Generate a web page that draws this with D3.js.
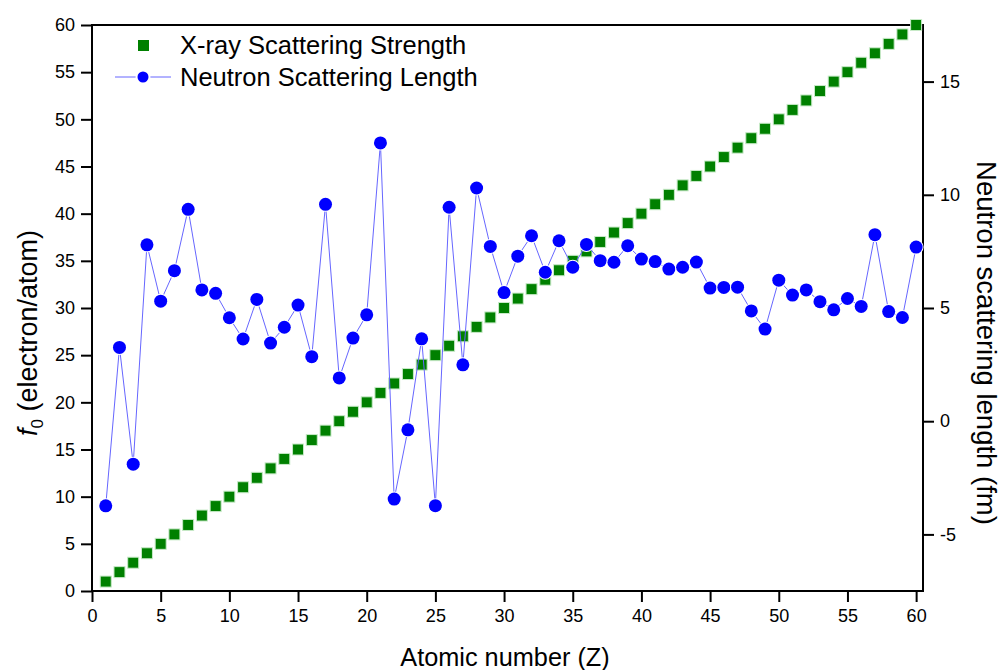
<!DOCTYPE html>
<html>
<head>
<meta charset="utf-8">
<title>X-ray vs neutron scattering</title>
<script src="https://d3js.org/d3.v7.min.js"></script>
<style>
  body { margin: 0; background: #fff; }
  text { font-family: "Liberation Sans", Arial, sans-serif; fill: #000; }
</style>
</head>
<body>
<div id="chart"></div>
<script>
// atomic numbers 1..60
var atomicNumbers = d3.range(1, 61);

// x-ray scattering strength f0 (electron/atom)
var xrayF0 = [
  1, 2, 3, 4, 5, 6, 7, 8, 9, 10,
  11, 12, 13, 14, 15, 16, 17, 18, 19, 20,
  21, 22, 23, 24, 25, 26, 27, 28, 29, 30,
  31, 32, 33, 34, 35, 36, 37, 38, 39, 40,
  41, 42, 43, 44, 45, 46, 47, 48, 49, 50,
  51, 52, 53, 54, 55, 56, 57, 58, 59, 60
];

// neutron coherent scattering length (fm)
var neutronB = [
  -3.74, 3.26, -1.90, 7.79, 5.30, 6.65, 9.36, 5.80, 5.65, 4.57,
  3.63, 5.38, 3.45, 4.15, 5.13, 2.85, 9.58, 1.91, 3.67, 4.70,
  12.29, -3.44, -0.38, 3.64, -3.73, 9.45, 2.49, 10.30, 7.72, 5.68,
  7.29, 8.19, 6.58, 7.97, 6.80, 7.81, 7.09, 7.02, 7.75, 7.16,
  7.05, 6.72, 6.80, 7.03, 5.88, 5.91, 5.92, 4.87, 4.07, 6.23,
  5.57, 5.80, 5.28, 4.92, 5.42, 5.07, 8.24, 4.84, 4.58, 7.69
];

var xTicks = d3.range(0, 61, 5);
var yLeftTicks = d3.range(0, 61, 5);
var yRightTicks = [-5, 0, 5, 10, 15];

var legendItems = ["X-ray Scattering Strength", "Neutron Scattering Length"];

var W = 1002, H = 670;
var margin = { top: 25, right: 79, bottom: 79, left: 92 };
var iw = W - margin.left - margin.right,
    ih = H - margin.top - margin.bottom;

var green = "#008000", blue = "#0000ff", lineBlue = "#6666ff";

var svg = d3.select("#chart").append("svg")
  .attr("width", W).attr("height", H);

var g = svg.append("g")
  .attr("transform", "translate(" + margin.left + "," + margin.top + ")");

var x = d3.scaleLinear().domain([0, 60.5]).range([0, iw]);
var yL = d3.scaleLinear().domain([0, 60]).range([ih, 0]);
var yR = d3.scaleLinear().domain([-7.5, 17.5]).range([ih, 0]);

var plain = function(d) { return String(d); }; // keep hyphen minus like the original

// axes
var ax = g.append("g").attr("transform", "translate(0," + ih + ")")
  .call(d3.axisBottom(x).tickValues(xTicks).tickFormat(plain).tickSize(11).tickPadding(7));
var ayl = g.append("g")
  .call(d3.axisLeft(yL).tickValues(yLeftTicks).tickFormat(plain).tickSize(11).tickPadding(6));
var ayr = g.append("g").attr("transform", "translate(" + iw + ",0)")
  .call(d3.axisRight(yR).tickValues(yRightTicks).tickFormat(plain).tickSize(11).tickPadding(6));

[ax, ayl, ayr].forEach(function(a) {
  a.select(".domain").remove();
  a.selectAll("line").attr("stroke", "#000").attr("stroke-width", 2);
  a.selectAll("text").style("font-size", "18px")
    .style("font-family", "'Liberation Sans', Arial, sans-serif");
});

// frame
g.append("rect").attr("x", 0).attr("y", 0).attr("width", iw).attr("height", ih)
  .attr("fill", "none").attr("stroke", "#000").attr("stroke-width", 2);

// x-ray squares
var sq = 11;
g.selectAll(".xr").data(atomicNumbers).enter().append("rect")
  .attr("class", "xr")
  .attr("x", function(d) { return x(d) - sq / 2; })
  .attr("y", function(d, i) { return yL(xrayF0[i]) - sq / 2; })
  .attr("width", sq).attr("height", sq)
  .attr("fill", green).attr("stroke", "#c8eac8").attr("stroke-width", 1);

// neutron line + circles
var line = d3.line()
  .x(function(d) { return x(d); })
  .y(function(d, i) { return yR(neutronB[i]); });

g.append("path").datum(atomicNumbers)
  .attr("d", line).attr("fill", "none")
  .attr("stroke", lineBlue).attr("stroke-width", 1);

g.selectAll(".nb").data(atomicNumbers).enter().append("circle")
  .attr("class", "nb")
  .attr("cx", function(d) { return x(d); })
  .attr("cy", function(d, i) { return yR(neutronB[i]); })
  .attr("r", 6.5)
  .attr("fill", blue).attr("stroke", "#fff").attr("stroke-width", 2)
  .attr("paint-order", "stroke");

// legend
var lg = svg.append("g");
lg.append("rect").attr("x", 138).attr("y", 40).attr("width", 11).attr("height", 11)
  .attr("fill", green);
lg.append("line").attr("x1", 115).attr("x2", 171).attr("y1", 77).attr("y2", 77)
  .attr("stroke", lineBlue).attr("stroke-width", 1);
lg.append("circle").attr("cx", 143).attr("cy", 77).attr("r", 6.5)
  .attr("fill", blue).attr("stroke", "#fff").attr("stroke-width", 2);
lg.selectAll(".lt").data(legendItems).enter().append("text")
  .attr("x", 180).attr("y", function(d, i) { return 54 + i * 32; })
  .style("font-size", "25.5px")
  .text(function(d) { return d; });

// axis titles
svg.append("text")
  .attr("x", 505).attr("y", 666)
  .attr("text-anchor", "middle").style("font-size", "25.3px")
  .text("Atomic number (Z)");

var lt = svg.append("text")
  .attr("transform", "translate(37,333) rotate(-90)")
  .attr("text-anchor", "middle").style("font-size", "27px");
lt.append("tspan").style("font-style", "italic").text("f");
lt.append("tspan").attr("dy", 6).style("font-size", "17px").text("0");
lt.append("tspan").attr("dy", -6).text(" (electron/atom)");

svg.append("text")
  .attr("transform", "translate(977,343) rotate(90)")
  .attr("text-anchor", "middle").style("font-size", "27.5px")
  .text("Neutron scattering length (fm)");
</script>
</body>
</html>
